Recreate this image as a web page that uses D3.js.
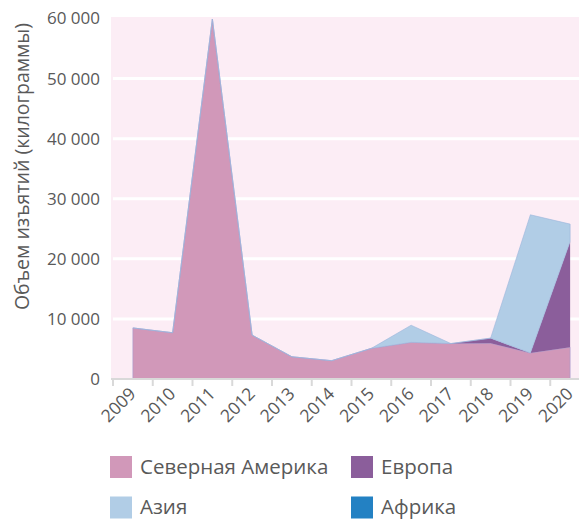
<!DOCTYPE html>
<html>
<head>
<meta charset="utf-8">
<script src="https://cdn.jsdelivr.net/npm/d3@7"></script>
<style>
  body { margin: 0; background: #fff; }
  text { font-family: "Open Sans", sans-serif; fill: #595959; }
</style>
</head>
<body>
<svg id="chart" width="579" height="519"></svg>
<script>
// data (kilograms)
const years = ['2009', '2010', '2011', '2012', '2013', '2014', '2015', '2016', '2017', '2018', '2019', '2020'];
const northAmerica = [8500, 7700, 59900, 7300, 3700, 3050, 5100, 6100, 5900, 5950, 4330, 5280];
const europe = [0, 0, 0, 0, 0, 0, 0, 0, 0, 850, 0, 17600];
const asia = [0, 0, 0, 0, 0, 0, 0, 2850, 0, 0, 23000, 2900];
const africa = [0, 0, 0, 0, 0, 0, 0, 0, 0, 0, 0, 0];
const yTicks = [0, 10000, 20000, 30000, 40000, 50000, 60000];

const series = [
  { key: 'na', name: 'Северная Америка', values: northAmerica, color: '#d198b9', stroke: '#a49ad0' },
  { key: 'eu', name: 'Европа', values: europe, color: '#8b5e9b', stroke: 'none' },
  { key: 'as', name: 'Азия', values: asia, color: '#b1cde6', stroke: '#9cb6dc' },
  { key: 'af', name: 'Африка', values: africa, color: '#2381c3', stroke: 'none' }
];

const rows = years.map((y, i) => {
  const r = { year: y };
  series.forEach(s => { r[s.key] = s.values[i]; });
  return r;
});

const svg = d3.select('#chart');
const plotLeft = 113, plotBottom = 379, plotTop = 18.5;
const step = 39.75;

const x = d3.scaleBand().domain(years).range([plotLeft, plotLeft + step * years.length]);
const y = d3.scaleLinear().domain([0, 60000]).range([plotBottom, plotTop]);

// plot background
svg.append('rect')
  .attr('x', plotLeft - 2).attr('y', 17)
  .attr('width', 579 - plotLeft + 2).attr('height', plotBottom - 17)
  .attr('fill', '#fcedf5');

// gridlines
svg.append('g')
  .selectAll('line')
  .data(yTicks.filter(d => d > 0 && d < 60000))
  .join('line')
  .attr('x1', plotLeft).attr('x2', 579)
  .attr('y1', d => y(d)).attr('y2', d => y(d))
  .attr('stroke', '#fff').attr('stroke-width', 3);

const stacked = d3.stack().keys(series.map(s => s.key))(rows);

const area = d3.area()
  .x(d => x(d.data.year) + x.bandwidth() / 2)
  .y0(d => y(d[0]))
  .y1(d => y(d[1]));

svg.append('g')
  .selectAll('path')
  .data(stacked)
  .join('path')
  .attr('d', area)
  .attr('fill', (d, i) => series[i].color)
  .attr('stroke', (d, i) => series[i].stroke)
  .attr('stroke-width', 0.6)
  .attr('stroke-linejoin', 'round');

// x axis
const xAxis = svg.append('g')
  .attr('transform', `translate(0,${plotBottom})`)
  .call(d3.axisBottom(x).tickSize(0).tickPadding(0));
xAxis.select('.domain').attr('stroke', '#d9d9d9').attr('stroke-width', 2)
  .attr('d', `M${plotLeft - 2},0H579`);
xAxis.selectAll('.tick line').remove();
xAxis.selectAll('.tick text')
  .attr('font-size', 17.5)
  .attr('text-anchor', 'end')
  .attr('dy', 0)
  .attr('transform', 'translate(4,16) rotate(-45)');

// tick marks at band edges
svg.append('g')
  .selectAll('line')
  .data(years)
  .join('line')
  .attr('x1', d => x(d)).attr('x2', d => x(d))
  .attr('y1', plotBottom).attr('y2', plotBottom + 7)
  .attr('stroke', '#d9d9d9').attr('stroke-width', 2);

// y axis
const yAxis = svg.append('g')
  .attr('transform', `translate(${plotLeft - 13},0)`)
  .call(d3.axisLeft(y).tickValues(yTicks).tickSize(0).tickPadding(0)
    .tickFormat(d => d3.format(',')(d).replace(/,/g, ' ')));
yAxis.select('.domain').remove();
yAxis.selectAll('.tick text').attr('font-size', 17);

svg.append('text')
  .attr('transform', 'translate(29,166.5) rotate(-90)')
  .attr('text-anchor', 'middle')
  .attr('font-size', 19.5)
  .text('Объем изъятий (килограммы)');

// legend
const legend = svg.append('g')
  .selectAll('g')
  .data(series)
  .join('g')
  .attr('transform', (d, i) => `translate(${i % 2 ? 351 : 110},${i < 2 ? 456 : 496.5})`);
legend.append('rect')
  .attr('width', 22).attr('height', 22)
  .attr('fill', d => d.color);
legend.append('text')
  .attr('x', 30).attr('y', 17.5)
  .attr('font-size', 20.5)
  .text(d => d.name);
</script>
</body>
</html>
